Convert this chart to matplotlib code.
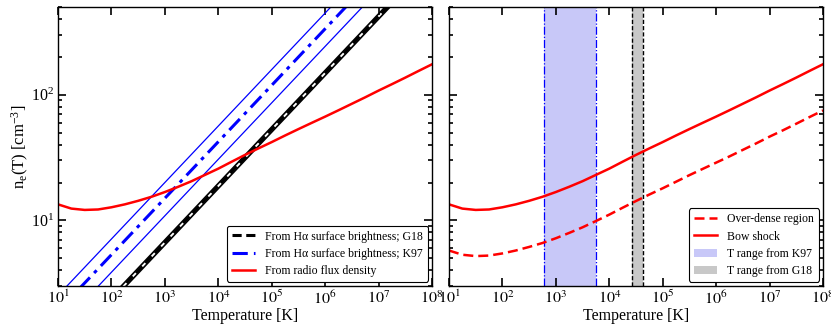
"""Electron density vs temperature: H-alpha and radio constraints (two panels)."""
import matplotlib

matplotlib.use("Agg")
import matplotlib.pyplot as plt
import numpy as np
from matplotlib.patches import Patch

plt.rcParams["font.family"] = ["Liberation Serif", "DejaVu Serif"]
plt.rcParams["mathtext.fontset"] = "stix"

# --------------------------------------------------------------------------- #
# Data
# --------------------------------------------------------------------------- #
# radio flux density / bow shock curve, sampled every quarter decade in T
logT_curve = [1.0, 1.25, 1.5, 1.75, 2.0, 2.25, 2.5, 2.75, 3.0, 3.25, 3.5,
              3.75, 4.0, 4.25, 4.5, 4.75, 5.0, 5.25, 5.5, 5.75, 6.0, 6.25,
              6.5, 6.75, 7.0, 7.25, 7.5, 7.75, 8.0]
ne_bow = [13.4, 12.4, 12.1, 12.2, 12.7, 13.4, 14.3, 15.4, 16.8, 18.5, 20.5,
          23.0, 25.8, 29.3, 33.2, 37.4, 42.0, 47.4, 53.3, 59.8, 67.0, 75.3,
          84.8, 95.5, 108.0, 121.5, 137.0, 155.0, 175.0]
ne_overdense = [5.75, 5.32, 5.19, 5.24, 5.45, 5.75, 6.14, 6.6, 7.2, 7.94, 8.8,
                9.87, 11.1, 12.6, 14.25, 16.05, 18.0, 20.3, 22.9, 25.7, 28.8,
                32.3, 36.4, 41.0, 46.4, 52.1, 58.8, 66.5, 75.0]

# H-alpha surface brightness power laws (end points at T = 1e1 and 1e8)
T_line = [1e1, 1e8]
ne_k97 = [1.89, 2665.0]
ne_k97_hi = [2.52, 3560.0]
ne_k97_lo = [1.37, 1930.0]
ne_g18 = [0.84, 1187.0]
ne_g18_hi = [0.88, 1245.0]
ne_g18_lo = [0.80, 1130.0]

# temperature ranges (right panel)
T_range_k97 = [590.0, 5620.0]
T_range_g18 = [26600.0, 42200.0]

XLIM = (1e1, 1e8)
YLIM = (3, 500)
XTICK_EXP = [1, 2, 3, 4, 5, 6, 7, 8]

T_curve = np.power(10.0, logT_curve)


def _style(ax):
    ax.set_xscale("log")
    ax.set_yscale("log")
    ax.set_xlim(*XLIM)
    ax.set_ylim(*YLIM)
    ax.set_xticks([10.0**k for k in XTICK_EXP])
    ax.set_xticklabels([r"$10^{%d}$" % k for k in XTICK_EXP])
    ax.tick_params(which="both", direction="in", top=True, right=True,
                   labelsize=11.5, pad=3)
    ax.tick_params(which="major", length=6, width=1.2)
    ax.tick_params(which="minor", length=3, width=1.2)
    ax.set_xlabel("Temperature [K]", fontsize=11.5, labelpad=0)
    for s in ax.spines.values():
        s.set_linewidth(1.0)


fig = plt.figure(figsize=(8.31, 3.32), dpi=100)
ax1 = fig.add_axes([0.0698, 0.1386, 0.4502, 0.8404])
ax2 = fig.add_axes([0.5403, 0.1386, 0.4501, 0.8404])

leg_kw = dict(loc="lower right", fontsize=8.5, frameon=True, fancybox=True,
              framealpha=1, edgecolor="black", handlelength=2.0,
              borderaxespad=0.35, labelspacing=0.45, borderpad=0.4,
              handletextpad=0.85)

# ---- left panel ----
ax1.plot(T_line, ne_k97_hi, color="#0000ff", lw=0.9)
ax1.plot(T_line, ne_k97_lo, color="#0000ff", lw=0.9)
ax1.plot(T_line, ne_g18_hi, color="black", lw=1.2)
ax1.plot(T_line, ne_g18_lo, color="black", lw=1.2)
l_g18, = ax1.plot(T_line, ne_g18, color="black", lw=2.2, ls="--",
                  dashes=(3, 1.5), label="From Hα surface brightness; G18")
l_k97, = ax1.plot(T_line, ne_k97, color="#0000ff", lw=2.2, ls="-.",
                  dashes=(5, 2, 1.2, 2),
                  label="From Hα surface brightness; K97")
l_rad, = ax1.plot(T_curve, ne_bow, color="#ff0000", lw=1.8,
                  label="From radio flux density")
_style(ax1)
ax1.set_ylabel(r"$\mathregular{n_e(T)\ [cm^{-3}]}$", fontsize=12)
ax1.yaxis.set_label_coords(-0.072, 0.5)
leg1 = ax1.legend(handles=[l_g18, l_k97, l_rad], **leg_kw)
leg1.get_frame().set_linewidth(0.8)

# ---- right panel ----
ax2.axvspan(*T_range_k97, color="#c8c8f8", lw=0)
for t in T_range_k97:
    ax2.axvline(t, color="#0000ff", lw=0.9, ls="-.")
ax2.axvspan(*T_range_g18, color="#c8c8c8", lw=0)
for t in T_range_g18:
    ax2.axvline(t, color="black", lw=1.0, ls="--", dashes=(3, 1.5))
l_od, = ax2.plot(T_curve, ne_overdense, color="#ff0000", lw=1.8, ls="--",
                 dashes=(4, 2), label="Over-dense region")
l_bs, = ax2.plot(T_curve, ne_bow, color="#ff0000", lw=1.8, label="Bow shock")
_style(ax2)
ax2.set_yticklabels([], minor=False)
ax2.set_yticklabels([], minor=True)
handles = [l_od, l_bs,
           Patch(facecolor="#c8c8f8", edgecolor="none", label="T range from K97"),
           Patch(facecolor="#c8c8c8", edgecolor="none", label="T range from G18")]
leg2 = ax2.legend(handles=handles, **leg_kw)
leg2.get_frame().set_linewidth(0.8)

fig.savefig("out.png", dpi=100)
plt.close(fig)
